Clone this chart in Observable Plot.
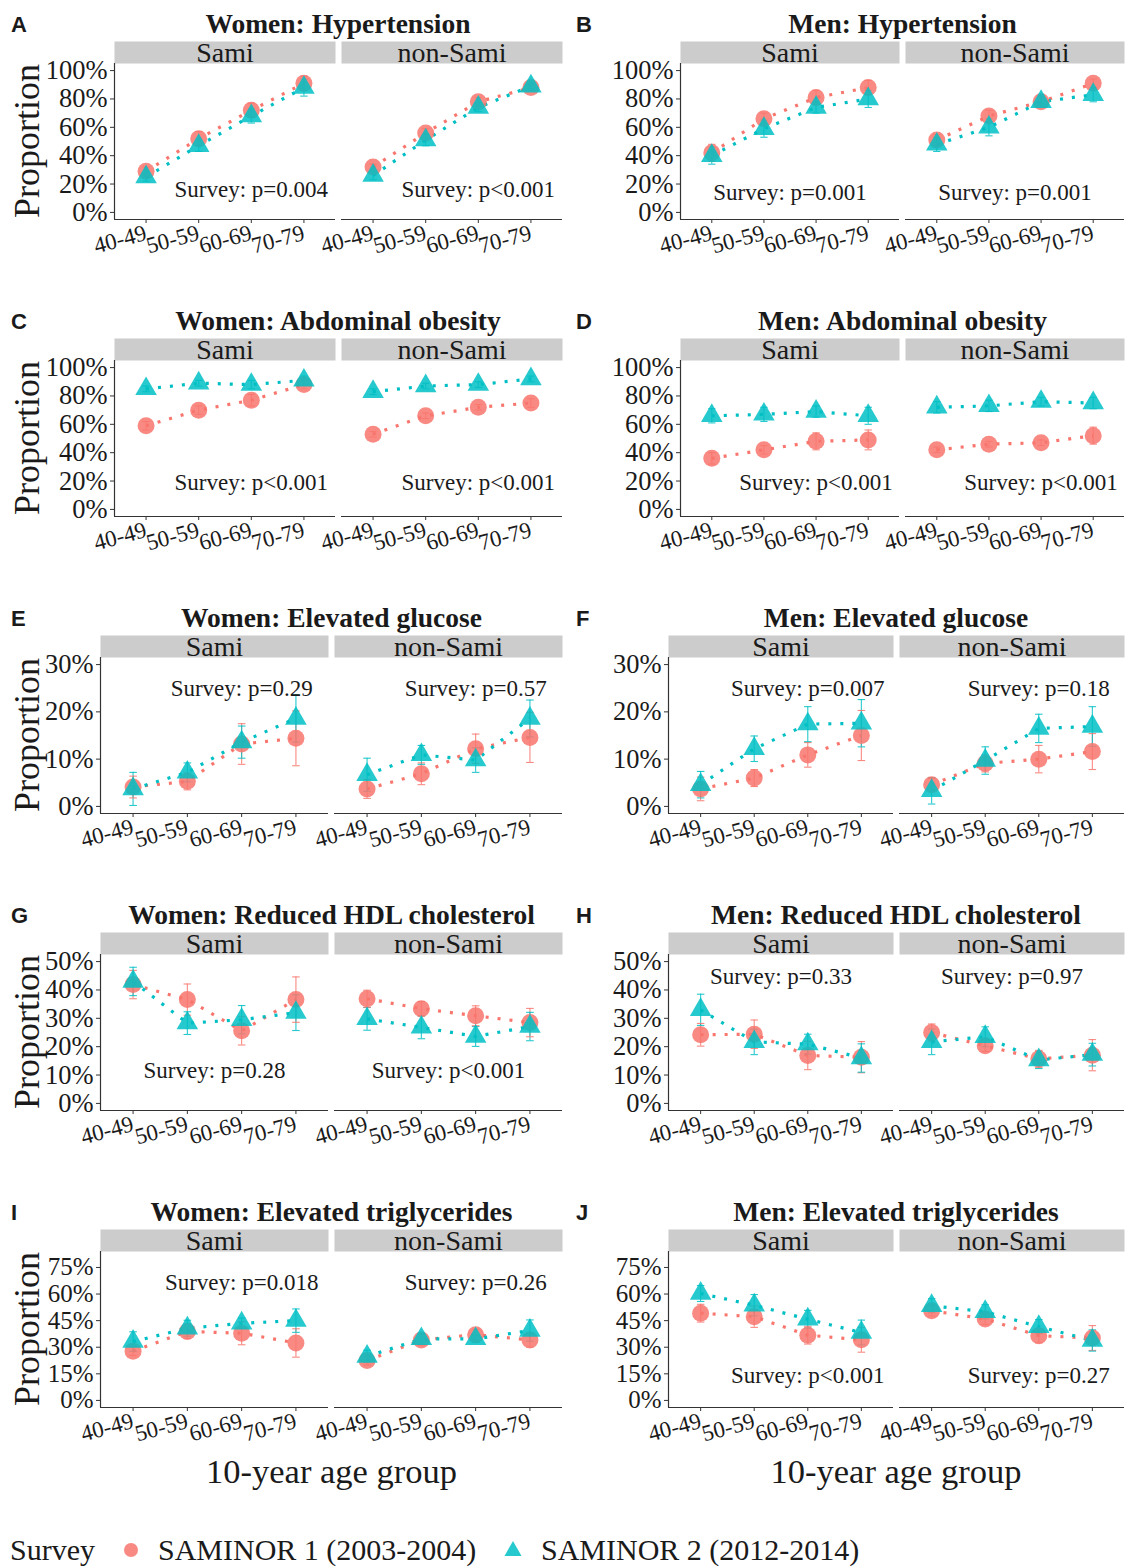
<!DOCTYPE html>
<html><head><meta charset="utf-8">
<script src="https://cdn.jsdelivr.net/npm/d3@7"></script>
<script src="https://cdn.jsdelivr.net/npm/@observablehq/plot@0.6"></script>
<style>
body{margin:0;background:#fff;}
#fig{position:relative;width:1125px;height:1568px;font-family:"Liberation Serif",serif;color:#1a1a1a;overflow:hidden;background:#fff}
.letter{position:absolute;font-family:"Liberation Sans",Arial,sans-serif;font-weight:bold;font-size:22px;line-height:26px}
.title{position:absolute;font-weight:bold;font-size:27.5px;text-align:center;line-height:28px;white-space:nowrap}
.ylab{position:absolute;font-size:36px;transform:rotate(-90deg);white-space:nowrap;line-height:38px;height:38px;text-align:center;width:200px}
.xlab{position:absolute;font-size:34.5px;line-height:38px;white-space:nowrap;text-align:center;width:400px}
.plot{position:absolute}
.legend{position:absolute;left:0;top:1532px;height:36px;font-size:30px;line-height:36px;white-space:nowrap}
.legend span{position:absolute;top:0}
.legend svg{position:absolute}
</style></head><body><div id="fig"></div>
<script>
const ages = ["40-49", "50-59", "60-69", "70-79"];
const ethnicities = ["Sami", "non-Sami"];
const surveys = ["SAMINOR 1 (2003-2004)", "SAMINOR 2 (2012-2014)"];
const surveyColors = ["#F8766D", "#00BFC4"];

const panelLetters = ["A", "B", "C", "D", "E", "F", "G", "H", "I", "J"];
const panelTitles = [
  "Women: Hypertension", "Men: Hypertension",
  "Women: Abdominal obesity", "Men: Abdominal obesity",
  "Women: Elevated glucose", "Men: Elevated glucose",
  "Women: Reduced HDL cholesterol", "Men: Reduced HDL cholesterol",
  "Women: Elevated triglycerides", "Men: Elevated triglycerides"
];

// Order in each array: Sami SAMINOR1 (4 ages), Sami SAMINOR2, non-Sami SAMINOR1, non-Sami SAMINOR2 (percent)
const womenHypertension    = [29, 52, 72, 91,  25, 47, 68, 88,  32, 56, 78, 88,  26, 51, 74, 89];
const womenHypertensionErr = [3, 5, 5, 5,  3, 4, 5, 6,  2, 3, 3, 2,  3, 4, 3, 2];
const menHypertension      = [42, 66, 81, 88,  40, 59, 74, 80,  51, 68, 78, 91,  48, 60, 78, 83];
const menHypertensionErr   = [6, 4, 5, 5,  6, 6, 4, 6,  4, 4, 3, 3,  5, 6, 4, 5];
const womenAbdominal       = [59, 70, 77, 88,  85, 89, 88, 91,  53, 66, 72, 75,  83, 87, 88, 92];
const womenAbdominalErr    = [3, 3, 4, 3,  2, 2, 3, 3,  2, 2, 2, 3,  2, 2, 2, 2];
const menAbdominal         = [36, 42, 48, 49,  66, 67, 69, 66,  42, 46, 47, 52,  72, 73, 76, 75];
const menAbdominalErr      = [4, 3, 6, 7,  5, 5, 4, 6,  2, 2, 2, 6,  4, 4, 3, 4];
const womenGlucose         = [4.1, 5.3, 13.2, 14.4,  3.7, 7.2, 13.6, 18.6,  3.7, 6.9, 12.2, 14.6,  6.7, 10.9, 9.8, 18.6];
const womenGlucoseErr      = [2.3, 1.8, 4.3, 5.8,  3.5, 2, 3.4, 5,  2, 2.3, 3.1, 5.3,  3.5, 2, 2.6, 3.9];
const menGlucose           = [3.7, 6.0, 10.9, 15,  4.6, 12.2, 17.4, 17.6,  4.6, 9.1, 10, 11.6,  3.3, 9.7, 16.5, 16.9];
const menGlucoseErr        = [2.5, 1.8, 2.6, 5.3,  2.8, 2.7, 3.7, 5,  1.3, 1.8, 2.9, 3.8,  2.8, 2.9, 3, 4.2];
const womenHDL             = [41.9, 36.6, 25.6, 36.6,  43, 28.3, 29.5, 32,  36.9, 33.4, 30.9, 28.5,  29.8, 26.8, 23.6, 27.1];
const womenHDLErr          = [5, 5.5, 5, 8,  5, 4, 5, 6.3,  3, 2.5, 3.5, 5,  4, 4, 3.5, 5];
const menHDL               = [24.2, 24.4, 16.9, 16.3,  33, 21.7, 20.9, 16,  25, 20.3, 15.7, 17,  21.7, 23.5, 15.3, 17.2];
const menHDLErr            = [4, 5, 5, 5.5,  5.5, 4.5, 3.5, 5,  3, 2, 3, 5.5,  4.5, 3.5, 3, 4];
const womenTrig            = [27.8, 38.9, 37.9, 32.4,  33.2, 40.7, 43.5, 45,  22.5, 34.1, 37.1, 34.1,  24.8, 34.7, 34.7, 39.4];
const womenTrigErr         = [2.5, 4, 6.5, 8,  5.5, 4.5, 3, 6.6,  2.5, 3, 3, 4,  3.5, 3, 2, 6];
const menTrig              = [49.2, 47.2, 36.8, 34.2,  60.3, 53.7, 45.8, 38.3,  50.6, 45.9, 36.5, 35.2,  53.4, 50, 41.6, 33.8];
const menTrigErr           = [5, 6, 5, 7,  4.5, 6, 5, 7,  3, 3, 4, 7,  4, 4, 4, 6];

const panelValues = [womenHypertension, menHypertension, womenAbdominal, menAbdominal, womenGlucose, menGlucose, womenHDL, menHDL, womenTrig, menTrig];
const panelErrors = [womenHypertensionErr, menHypertensionErr, womenAbdominalErr, menAbdominalErr, womenGlucoseErr, menGlucoseErr, womenHDLErr, menHDLErr, womenTrigErr, menTrigErr];

const pValues = [
  ["p=0.004", "p<0.001"], ["p=0.001", "p=0.001"],
  ["p<0.001", "p<0.001"], ["p<0.001", "p<0.001"],
  ["p=0.29", "p=0.57"], ["p=0.007", "p=0.18"],
  ["p=0.28", "p<0.001"], ["p=0.33", "p=0.97"],
  ["p=0.018", "p=0.26"], ["p<0.001", "p=0.27"]
];
const annotX = [3, 2.5, 3, 3, 3, 3, 2.5, 2.5, 3, 3];
const annotY = [16, 14, 19, 19, 25, 25, 11.6, 44.7, 66.5, 14];

const yLimits = [100, 100, 100, 100, 30, 30, 50, 50, 80, 80];
const yTickSets = [
  [0, 20, 40, 60, 80, 100], [0, 20, 40, 60, 80, 100],
  [0, 20, 40, 60, 80, 100], [0, 20, 40, 60, 80, 100],
  [0, 10, 20, 30], [0, 10, 20, 30],
  [0, 10, 20, 30, 40, 50], [0, 10, 20, 30, 40, 50],
  [0, 15, 30, 45, 60, 75], [0, 15, 30, 45, 60, 75]
];

const fig = document.getElementById("fig");
const FONT = "'Liberation Serif', serif";
const INK = "#1a1a1a";
const AXIS = "#333333";
const PANEL_H = 156;

function rowsFor(values, errors) {
  const rows = [];
  let k = 0;
  for (const eth of ethnicities) for (const s of surveys) for (let i = 0; i < ages.length; i++) {
    rows.push({eth, survey: s, x: i + 1, v: values[k], lo: values[k] - errors[k], hi: values[k] + errors[k]});
    k++;
  }
  return rows;
}

function addDiv(cls, text, left, top, extra) {
  const d = document.createElement("div");
  d.className = cls;
  d.textContent = text;
  d.style.left = left + "px";
  d.style.top = top + "px";
  if (extra) Object.assign(d.style, extra);
  fig.appendChild(d);
  return d;
}

for (let p = 0; p < 10; p++) {
  const col = p % 2, row = Math.floor(p / 2);
  const colX = col === 0 ? 0 : 565;
  const colW = col === 0 ? 563 : 560;
  const rowY = row * 297;
  const wide = yLimits[p] === 100;
  const axisX = col === 0 ? (wide ? 113 : 100) : (wide ? 680 : 667);
  const marginLeft = axisX - colX;
  const ymax = yLimits[p];
  const yFont = yTickSets[p].length > 5 && ymax === 80 ? 25 : 26.5;
  const rows = rowsFor(panelValues[p], panelErrors[p]);
  const rows1 = rows.filter(d => d.survey === surveys[0]);
  const rows2 = rows.filter(d => d.survey === surveys[1]);
  const annots = ethnicities.map((eth, j) => ({eth, x: annotX[p], y: annotY[p], text: "Survey: " + pValues[p][j]}));

  addDiv("letter", panelLetters[p], colX + 11, rowY + 12);
  const t = addDiv("title", panelTitles[p], axisX, rowY + 10);
  t.style.width = (colX + colW - axisX) + "px";
  if (col === 0) addDiv("ylab", "Proportion", 27 - 100, rowY + 141 - 19);

  const chart = Plot.plot({
    width: colW,
    height: 25 + PANEL_H + 45,
    marginLeft,
    marginRight: 0,
    marginTop: 25,
    marginBottom: 45,
    style: {fontFamily: FONT, color: INK, background: "transparent", overflow: "visible"},
    fx: {domain: ethnicities, paddingInner: 0.025, paddingOuter: 0, axis: null, label: null},
    x: {domain: [0.4, 4.6]},
    y: {domain: [-ymax * 0.05, ymax * 1.05]},
    color: {domain: surveys, range: surveyColors},
    symbol: {domain: surveys, range: ["circle", "triangle"]},
    marks: [
      Plot.frame({fill: "#cccccc", stroke: null, insetTop: -22, insetBottom: PANEL_H}),
      Plot.text(ethnicities, {fx: d => d, text: d => d, frameAnchor: "top", dy: -10, fontSize: 28, lineAnchor: "middle", fill: INK}),
      Plot.axisY({ticks: yTickSets[p], tickFormat: d => d + "%", tickSize: 4, tickPadding: 3, fontSize: yFont, stroke: AXIS, fill: INK, label: null}),
      Plot.axisX({ticks: [1, 2, 3, 4], tickFormat: i => ages[i - 1], tickRotate: -15, tickSize: 4, tickPadding: 9, fontSize: 23, stroke: AXIS, fill: INK, label: null}),
      Plot.ruleX([{eth: "Sami", x: 0.4}], {fx: "eth", x: "x", stroke: AXIS, strokeWidth: 1.2}),
      Plot.ruleY([-ymax * 0.05], {stroke: AXIS, strokeWidth: 1.2}),
      Plot.line(rows, {fx: "eth", x: "x", y: "v", stroke: "survey", z: "survey", strokeWidth: 3.2, strokeDasharray: "3,9", strokeLinecap: "butt"}),
      Plot.ruleX(rows, {fx: "eth", x: "x", y1: "lo", y2: "hi", stroke: "survey", strokeWidth: 1.1, strokeOpacity: 0.85}),
      Plot.link(rows, {fx: "eth", x1: d => d.x - 0.07, x2: d => d.x + 0.07, y1: "hi", y2: "hi", stroke: "survey", strokeWidth: 1.1, strokeOpacity: 0.85}),
      Plot.link(rows, {fx: "eth", x1: d => d.x - 0.07, x2: d => d.x + 0.07, y1: "lo", y2: "lo", stroke: "survey", strokeWidth: 1.1, strokeOpacity: 0.85}),
      Plot.dot(rows1, {fx: "eth", x: "x", y: "v", fill: "survey", symbol: "survey", r: 8.5, fillOpacity: 0.85, stroke: null}),
      Plot.dot(rows2, {fx: "eth", x: "x", y: "v", fill: "survey", symbol: "survey", r: 8, fillOpacity: 0.85, stroke: null}),
      Plot.text(annots, {fx: "eth", x: "x", y: "y", text: "text", fontSize: 23, fill: INK, lineAnchor: "middle"})
    ]
  });
  chart.classList.add("plot");
  chart.style.left = colX + "px";
  chart.style.top = (rowY + 38) + "px";
  fig.appendChild(chart);

  if (row === 4) {
    const cx = (axisX + colX + colW) / 2;
    addDiv("xlab", "10-year age group", cx - 200, 1452);
  }
}

// legend
const lg = document.createElement("div");
lg.className = "legend";
lg.innerHTML = `<span style="left:10px">Survey</span>
<svg width="20" height="20" style="left:121px;top:8px"><circle cx="10" cy="10" r="7" fill="${surveyColors[0]}" fill-opacity="0.85"/></svg>
<span style="left:158px">${surveys[0]}</span>
<svg width="22" height="22" style="left:502px;top:6px"><path d="M11,3 L19.5,18 L2.5,18 Z" fill="${surveyColors[1]}" fill-opacity="0.85"/></svg>
<span style="left:541px">${surveys[1]}</span>`;
fig.appendChild(lg);
</script></body></html>
